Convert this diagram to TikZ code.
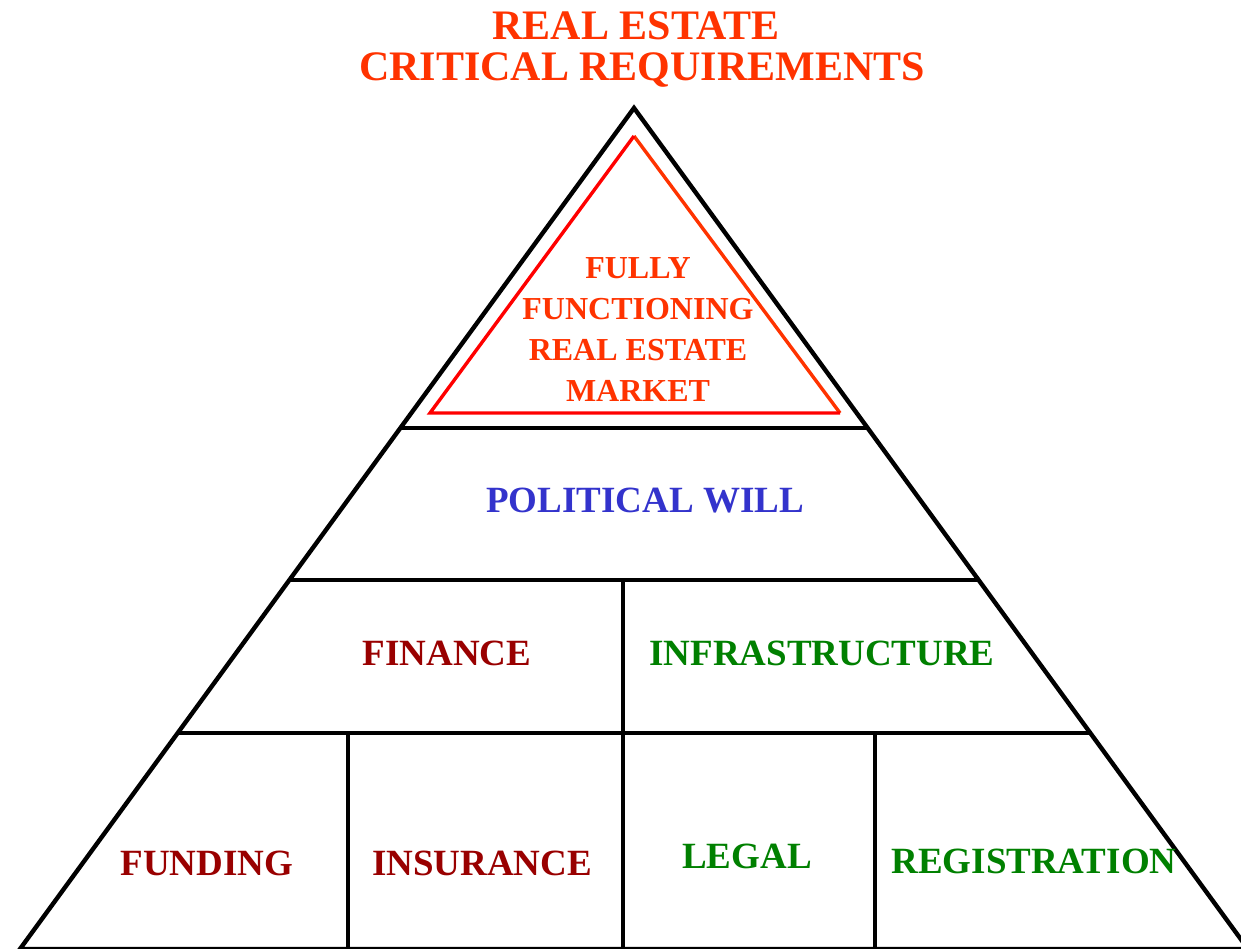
\documentclass[tikz,border=0pt]{standalone}
\usepackage{fontspec}
\setmainfont{Liberation Serif}
\usetikzlibrary{calc}

\definecolor{clrtitle}{HTML}{FF3300}
\definecolor{clrred}{HTML}{FF0000}
\definecolor{clrdark}{HTML}{990000}
\definecolor{clrgreen}{HTML}{008000}
\definecolor{clrblue}{HTML}{3333CC}

\tikzset{
	pyrlabel/.style={anchor=base, inner sep=0pt, font=\bfseries\fontsize{18.5}{22}\selectfont},
}

\begin{document}
\begin{tikzpicture}[x=0.5pt,y=-0.5pt]

\def\apexX{634}
\def\apexY{108}
\def\baseY{949}
\def\bandA{0.3805}
\def\bandB{0.5612}
\def\bandC{0.7432}
\def\midX{623}
\def\leftX{348}
\def\rightX{875}

\useasboundingbox (0,0) rectangle (1241,948);

\coordinate (apex) at (\apexX,\apexY);
\coordinate (bl) at (20,\baseY);
\coordinate (br) at (1248,\baseY);

\node[anchor=base, inner sep=0pt, text=clrtitle, font=\bfseries\fontsize{21}{25}\selectfont]
	(title1) at (636,39) {REAL ESTATE};
\node[anchor=base, inner sep=0pt, text=clrtitle, font=\bfseries\fontsize{21}{25}\selectfont]
	(title2) at (642,80) {CRITICAL REQUIREMENTS};

\begin{scope}[line width=2.2pt]
	\draw (bl) -- (apex) -- (br) -- cycle;
	\draw ($(apex)!\bandA!(bl)$) -- ($(apex)!\bandA!(br)$);
	\draw ($(apex)!\bandB!(bl)$) -- ($(apex)!\bandB!(br)$);
	\draw ($(apex)!\bandC!(bl)$) -- ($(apex)!\bandC!(br)$);
	\draw (\midX,580) -- (\midX,\baseY);
	\draw (\leftX,733) -- (\leftX,\baseY);
	\draw (\rightX,733) -- (\rightX,\baseY);
\end{scope}

\begin{scope}[line width=1.7pt]
	\draw [clrtitle] (634,136) -- (840,413);
	\draw [clrred,line join=miter] (634,136) -- (430,413) -- (840,413);
\end{scope}

\node[inner sep=0pt, anchor=base, align=center, text=clrtitle, font=\bfseries\fontsize{16}{20.5}\selectfont]
	(market) at (638,401) {FULLY\\FUNCTIONING\\REAL ESTATE\\MARKET};

\node[pyrlabel, text=clrblue] (politics) at (645,512) {POLITICAL WILL};
\node[pyrlabel, text=clrdark] (finance) at (447,665) {FINANCE};
\node[pyrlabel, text=clrgreen] (infra) at (822,665) {INFRASTRUCTURE};
\node[pyrlabel, text=clrdark] (funding) at (207,875) {FUNDING};
\node[pyrlabel, text=clrdark] (insurance) at (482,875) {INSURANCE};
\node[pyrlabel, text=clrgreen] (legal) at (747,868) {LEGAL};
\node[pyrlabel, text=clrgreen] (registration) at (1034,873) {REGISTRATION};

\end{tikzpicture}
\end{document}
